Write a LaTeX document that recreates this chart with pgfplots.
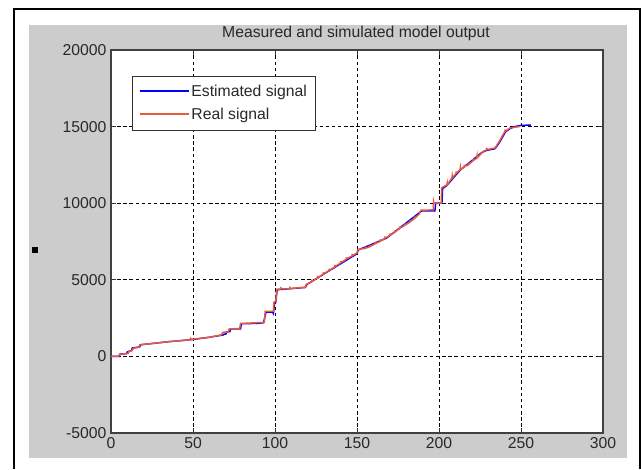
\documentclass[border=0pt]{standalone}
\usepackage{pgfplots}
\pgfplotsset{compat=1.18}
\usepackage{fontspec}
\setmainfont{Liberation Sans}
\definecolor{figgray}{RGB}{204,204,204}
\definecolor{realc}{RGB}{232,90,58}
\definecolor{estc}{RGB}{0,0,255}
\definecolor{txt}{RGB}{40,40,40}
\newcommand{\lf}{\fontsize{11.8}{13.5}\selectfont}
\begin{document}
\begin{tikzpicture}[x=0.75pt,y=0.75pt]
\useasboundingbox (0,0) rectangle (641,469);
\fill[figgray] (29,11) rectangle (627,444);
\draw[black,line width=1.6pt] (13.8,0) -- (13.8,459.7) -- (639.7,459.7) -- (639.7,0);
\fill[black] (32,216) rectangle (38,222);
\node[font=\lf,text=txt] at (356,436) {Measured and simulated model output};
\begin{axis}[
  at={(83.25pt,27pt)}, anchor=south west,
  scale only axis, width=369pt, height=287.25pt,
  xmin=0, xmax=300, ymin=-5000, ymax=20000,
  xtick={0,50,...,300}, ytick={-5000,0,5000,10000,15000,20000},
  axis background/.style={fill=white},
  grid=major,
  major grid style={black, dash pattern=on 2.6pt off 2pt, line width=0.75pt},
  tick align=inside, tick pos=both, major tick length=4pt,
  tick style={black!80, line width=0.6pt},
  axis line style={black!75, line width=0.8pt},
  /pgf/number format/assume math mode=true,
  scaled ticks=false,
  yticklabel style={/pgf/number format/1000 sep={}},
  xticklabel style={/pgf/number format/1000 sep={}},
  ticklabel style={font=\lf, text=txt},
  legend style={at={(0.042,0.932)}, anchor=north west, draw=black!80, line width=0.6pt,
    fill=white, font=\lf, text=txt, inner xsep=5pt, inner ysep=4.8pt, row sep=4pt,
    nodes={inner sep=1.6pt}},
  legend cell align=left,
  legend image code/.code={\draw[#1, line width=1.2pt] (0pt,0.3pt) -- (36.75pt,0.3pt);},
]
\addplot[estc, line width=1.1pt] coordinates {
(0,0) (5,0) (5.5,150) (9.5,180) (10,300) (12.5,380) (13,550) (17.5,620) (18,760)
(25,840) (35,960) (48,1080) (60,1250) (68.5,1400) (69,1460) (70,1460) (70.5,1600)
(72.5,1620) (73,1790) (79,1800) (79.5,2130) (90,2160) (93,2200) (94.5,2880) (98.5,2900)
(99,2800) (99.8,3500) (100.5,3550) (101.3,4350) (118.5,4500) (119.5,4700) (150,6700)
(150.8,6950) (168,7720) (189.5,9500) (197.5,9500) (198,10000) (201.8,10000) (202.2,10950)
(204.7,11150) (212.8,12150) (226,13300) (229,13450) (234,13550) (236.5,13900)
(240.5,14650) (243,14850) (246,15000) (250,15080) (256,15100)
};
\addlegendentry{Estimated signal}
\addplot[realc, line width=1.1pt] coordinates {
(0,0) (4.5,0) (5,100) (8,170) (10.5,200) (11,330) (13,390) (13.5,520) (17,600) (17.5,760)
(25,840) (35,960) (48,1080) (48.5,1180) (49,1110) (60,1250) (67.5,1410) (68,1570)
(71.5,1600) (72,1790) (78.5,1820) (79,2150) (93.5,2220) (94,2940) (99,2950) (99.4,3550)
(100.5,3600) (101,4380) (103.5,4400) (103.5,4540) (103.6,4410) (109,4420) (109,4560) (109.1,4430) (118.5,4520) (119,4700)
(122.5,4880) (122.5,5010) (122.6,4890) (126,5130) (126,5260) (126.1,5140)
(129.5,5380) (129.5,5510) (129.6,5390) (133,5600) (133,5730) (133.1,5610)
(136.5,5850) (136.5,5980) (136.6,5860) (140,6100) (140,6230) (140.1,6110)
(143.5,6350) (143.5,6480) (143.6,6360) (147,6560) (147,6690) (147.1,6570)
(150,6750) (150.5,6980) (155,7050) (155,7180) (155.1,7060) (158,7170) (158,7300) (158.1,7180)
(161,7350) (161,7480) (161.1,7360) (164,7500) (164,7630) (164.1,7510)
(167,7700) (167,7830) (167.1,7710) (170,7900) (170,8030) (170.1,7910)
(173,8100) (173,8230) (173.1,8110) (176,8350) (176,8480) (176.1,8360)
(179,8550) (179,8680) (179.1,8560) (182,8750) (182,8880) (182.1,8760)
(185,9000) (185,9130) (185.1,9010) (188,9300) (189,9550) (196.5,9560) (196.7,10120)
(197,9980) (201.4,10000) (201.6,11000) (204.7,11200) (205,11330) (205.1,11210)
(207.8,11640) (208,11770) (208.1,11650) (210.5,11950) (210.5,12080) (210.6,11960)
(212.8,12190) (213,12320) (213.1,12200) (215.5,12380) (215.5,12510) (215.6,12390)
(217.9,12510) (218,12640) (218.1,12520) (220.5,12750) (220.5,12880) (220.6,12760)
(223,12950) (223.2,13080) (223.3,12960) (227,13380) (229,13490) (229.1,13620) (229.2,13500)
(234,13600) (236.2,13930) (240.2,14690) (240.3,14820) (240.4,14700) (243.3,14910) (249.4,15010)
};
\addlegendentry{Real signal}
\end{axis}
\end{tikzpicture}
\end{document}
